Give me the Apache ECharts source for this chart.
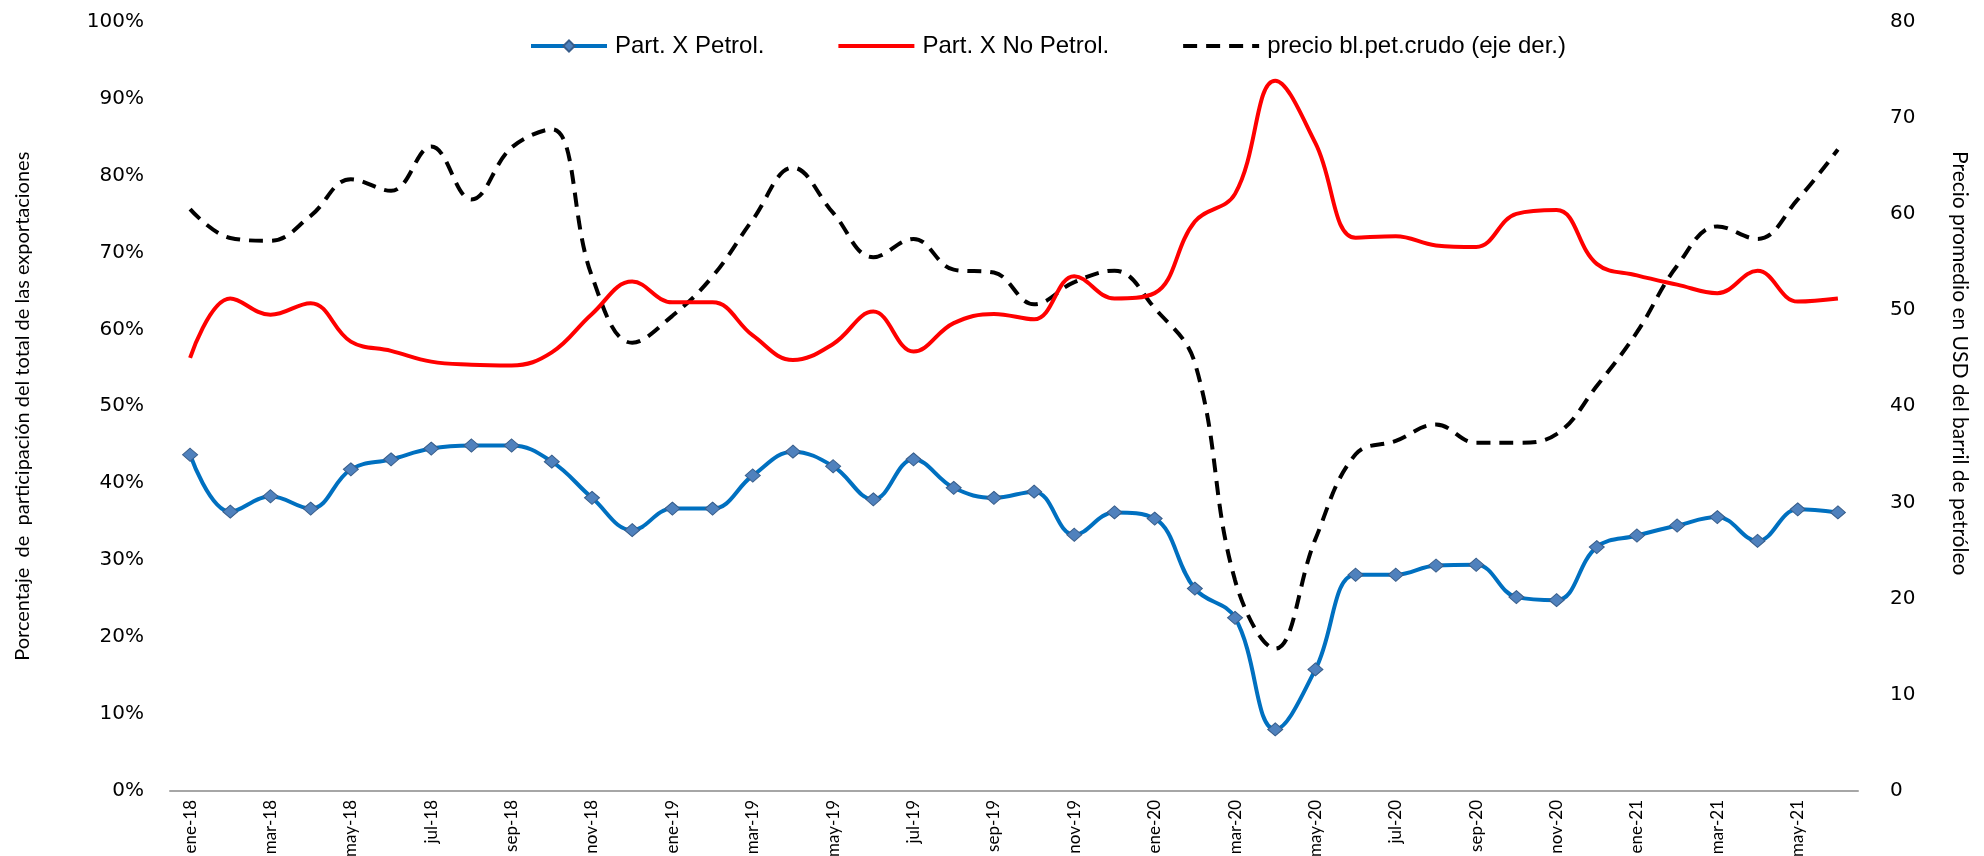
<!DOCTYPE html>
<html lang="es">
<head>
<meta charset="utf-8">
<title>Participación de exportaciones y precio del petróleo</title>
<script src="https://cdn.jsdelivr.net/npm/echarts@6.0.0/dist/echarts.min.js"></script>
<style>
  html, body { margin: 0; padding: 0; background: #ffffff; }
  #chart { width: 1984px; height: 856px; }
</style>
</head>
<body>
<div id="chart"></div>
<script>
// meses (ene-18 .. jun-21)
const meses = [
  'ene-18', 'feb-18', 'mar-18', 'abr-18', 'may-18', 'jun-18', 'jul-18', 'ago-18', 'sep-18', 'oct-18', 'nov-18', 'dic-18',
  'ene-19', 'feb-19', 'mar-19', 'abr-19', 'may-19', 'jun-19', 'jul-19', 'ago-19', 'sep-19', 'oct-19', 'nov-19', 'dic-19',
  'ene-20', 'feb-20', 'mar-20', 'abr-20', 'may-20', 'jun-20', 'jul-20', 'ago-20', 'sep-20', 'oct-20', 'nov-20', 'dic-20',
  'ene-21', 'feb-21', 'mar-21', 'abr-21', 'may-21', 'jun-21'
]

// participación exportaciones petroleras (%)
const partPetrol = [
  43.7, 36.3, 38.3, 36.7, 41.8, 43.1, 44.5, 44.9, 44.9, 42.8, 38.1, 33.9,
  36.7, 36.7, 41.0, 44.1, 42.2, 37.9, 43.1, 39.4, 38.1, 38.9, 33.3, 36.2,
  35.4, 26.3, 22.5, 8.0, 15.8, 28.1, 28.1, 29.3, 29.4, 25.2, 24.8, 31.7,
  33.2, 34.5, 35.6, 32.5, 36.6, 36.2
]

// participación exportaciones no petroleras (%)
const partNoPetrol = [
  56.3, 64.0, 61.9, 63.4, 58.4, 57.2, 55.8, 55.4, 55.3, 57.0, 62.0, 66.2,
  63.5, 63.5, 59.2, 56.0, 58.1, 62.3, 57.1, 60.8, 62.0, 61.3, 66.9, 64.0,
  64.7, 74.0, 77.6, 92.3, 84.2, 71.9, 72.1, 70.9, 70.7, 75.0, 75.5, 68.5,
  67.0, 65.8, 64.7, 67.6, 63.6, 64.0
]

// precio barril petróleo crudo (USD, eje derecho)
const precioCrudo = [
  60.5, 57.5, 57.2, 59.8, 63.6, 62.4, 67.0, 61.5, 66.9, 68.8, 53.5, 46.6,
  49.4, 53.5, 59.4, 64.8, 60.1, 55.5, 57.4, 54.2, 53.9, 50.6, 52.9, 54.1,
  50.2, 44.5, 21.9, 14.8, 26.2, 35.0, 36.4, 38.1, 36.2, 36.2, 37.1, 42.1,
  47.7, 54.6, 58.7, 57.4, 61.5, 66.7
]

const nombres = ['Part. X Petrol.', 'Part. X No Petrol.', 'precio bl.pet.crudo (eje der.)']

const fuenteTick = '"DejaVu Sans", Verdana, sans-serif'
const fuenteAngosta = '"Liberation Sans Narrow", "Arial Narrow", Lato, sans-serif'

// sin marcador en la leyenda para las series de línea simple
const sinMarcador = { color: 'rgba(0,0,0,0)', borderColor: 'rgba(0,0,0,0)', borderWidth: 0 }

const chart = echarts.init(document.getElementById('chart'))

const option = {
  animation: false,
  backgroundColor: '#ffffff',
  legend: {
    left: 524,
    top: 29,
    itemWidth: 76,
    itemHeight: 14,
    itemGap: 72,
    lineStyle: { width: 4 },
    textStyle: {
      fontFamily: '"Liberation Sans", Arial, sans-serif',
      fontSize: 24,
      color: '#000',
      padding: [0, 0, 0, 3]
    },
    data: [
      { name: nombres[0] },
      { name: nombres[1], itemStyle: sinMarcador },
      { name: nombres[2], itemStyle: sinMarcador }
    ]
  },
  grid: {
    left: 170,
    right: 126,
    top: 21.5,
    bottom: 65,
    containLabel: false,
    outerBoundsMode: 'none'
  },
  xAxis: {
    type: 'category',
    data: meses,
    boundaryGap: true,
    axisLine: { show: true, lineStyle: { color: '#a6a6a6', width: 2 } },
    axisTick: { show: false },
    axisLabel: {
      interval: 1,
      rotate: 90,
      margin: 9,
      color: '#000',
      fontFamily: fuenteAngosta,
      fontSize: 17
    },
    splitLine: { show: false }
  },
  yAxis: [
    {
      // eje izquierdo: porcentaje
      type: 'value',
      min: 0,
      max: 100,
      interval: 10,
      position: 'left',
      name: 'Porcentaje  de  participación del total de las exportaciones',
      nameLocation: 'middle',
      nameGap: 137,
      nameRotate: 90,
      nameTextStyle: {
        fontFamily: fuenteAngosta,
        fontSize: 20,
        color: '#000'
      },
      axisLine: { show: false },
      axisTick: { show: false },
      splitLine: { show: false },
      axisLabel: {
        formatter: '{value}%',
        margin: 26,
        color: '#000',
        fontFamily: fuenteTick,
        fontSize: 20
      }
    },
    {
      // eje derecho: USD por barril
      type: 'value',
      min: 0,
      max: 80,
      interval: 10,
      position: 'right',
      name: 'Precio promedio en USD del barril de petróleo',
      nameLocation: 'middle',
      nameGap: 91,
      nameRotate: -90,
      nameTextStyle: {
        fontFamily: fuenteAngosta,
        fontSize: 21,
        color: '#000',
        padding: [0, 86, 0, 0]
      },
      axisLine: { show: false },
      axisTick: { show: false },
      splitLine: { show: false },
      axisLabel: {
        margin: 32,
        color: '#000',
        fontFamily: fuenteTick,
        fontSize: 20
      }
    }
  ],
  series: [
    {
      name: nombres[0],
      type: 'line',
      yAxisIndex: 0,
      data: partPetrol,
      smooth: 0.4,
      symbol: 'diamond',
      symbolSize: [15, 13],
      showAllSymbol: true,
      lineStyle: { color: '#0070c0', width: 4 },
      itemStyle: { color: '#4f81bd', borderColor: '#385d8a', borderWidth: 1 },
      z: 4
    },
    {
      name: nombres[1],
      type: 'line',
      yAxisIndex: 0,
      data: partNoPetrol,
      smooth: 0.4,
      showSymbol: false,
      symbol: 'none',
      lineStyle: { color: '#ff0000', width: 4 },
      itemStyle: { color: '#ff0000' },
      z: 3
    },
    {
      name: nombres[2],
      type: 'line',
      yAxisIndex: 1,
      data: precioCrudo,
      smooth: 0.4,
      showSymbol: false,
      symbol: 'none',
      lineStyle: { color: '#000000', width: 4, type: [14, 9] },
      itemStyle: { color: '#000000' },
      z: 2
    }
  ]
}

chart.setOption(option)
</script>
</body>
</html>
